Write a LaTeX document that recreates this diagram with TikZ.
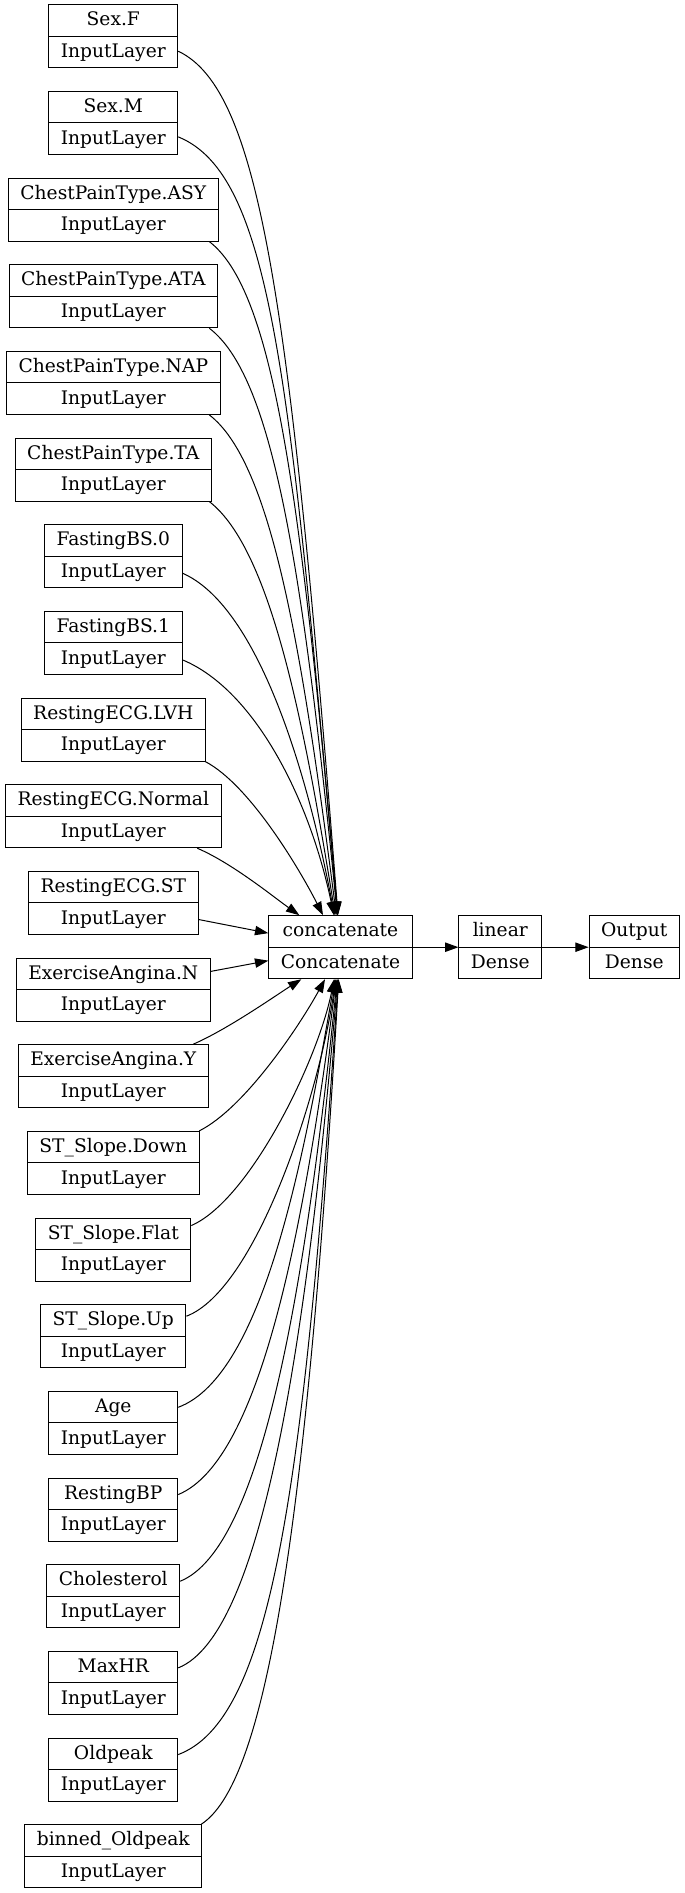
\documentclass[tikz,border=0pt]{standalone}
\usepackage{fontspec}
\setmainfont{DejaVu Serif}
\usetikzlibrary{shapes.multipart,arrows.meta,calc}
\newcommand{\sr}{\rule[-4.4pt]{0pt}{16.9pt}}
\tikzset{
  lay/.style={draw, rectangle split, rectangle split parts=2, inner xsep=9pt, inner ysep=3pt,
    line width=0.75pt, font=\fontsize{14pt}{16pt}\selectfont},
  conn/.style={-{Triangle[length=10pt,width=7pt]}, line width=0.75pt}
}
\begin{document}
\begin{tikzpicture}[x=0.75pt,y=-0.75pt]
\useasboundingbox (0,0) rectangle (685,1893);
\foreach \lab [count=\i from 0] in {Sex.F,Sex.M,ChestPainType.ASY,ChestPainType.ATA,ChestPainType.NAP,ChestPainType.TA,FastingBS.0,FastingBS.1,RestingECG.LVH,RestingECG.Normal,RestingECG.ST,ExerciseAngina.N,ExerciseAngina.Y,ST\_Slope.Down,ST\_Slope.Flat,ST\_Slope.Up,Age,RestingBP,Cholesterol,MaxHR,Oldpeak,binned\_Oldpeak}{
  \node[lay] (n\i) at (113.3,{36.2+86.667*\i}) {\sr\lab\nodepart{two}\sr InputLayer};
}
\node[lay] (concat) at (340.5,947.2) {\sr concatenate\nodepart{two}\sr Concatenate};
\node[lay] (linear) at (500.3,947.2) {\sr linear\nodepart{two}\sr Dense};
\node[lay] (output) at (634.3,947.2) {\sr Output\nodepart{two}\sr Dense};

\draw[conn] ($(n0.east)+(0,15)$) .. controls (260,90) and (290,300) .. (concat);
\draw[conn] ($(n1.east)+(0,14)$) .. controls (272,175) and (290,380) .. (concat);
\draw[conn] ($(n2.south)+(96,0)$) .. controls (272,290) and (300,480) .. (concat);
\draw[conn] ($(n3.south)+(96,0)$) .. controls (272,376) and (302,560) .. (concat);
\draw[conn] ($(n4.south)+(96,0)$) .. controls (272,463) and (302,650) .. (concat);
\draw[conn] ($(n5.south)+(96,0)$) .. controls (272,550) and (305,730) .. (concat);
\draw[conn] ($(n6.east)+(0,17)$) .. controls (255,605) and (305,760) .. (concat);
\draw[conn] ($(n7.east)+(0,17)$) .. controls (255,690) and (310,800) .. (concat);
\draw[conn] ($(n8.south)+(92,0)$) .. controls (250,785) and (300,870) .. ($(concat.north)+(-17.5,0)$);
\draw[conn] ($(n9.south)+(84,0)$) .. controls (232,863) and (275,898) .. ($(concat.north west)+(31,0)$);
\draw[conn] (n10) -- (concat);
\draw[conn] (n11) -- (concat);
\draw[conn] ($(n12.north)+(80,0)$) .. controls (228,1029) and (275,996) .. ($(concat.south west)+(33,0)$);
\draw[conn] ($(n13.north)+(86,0)$) .. controls (245,1108) and (300,1025) .. ($(concat.south)+(-15.5,0)$);
\draw[conn] ($(n14.east)+(0,-24)$) .. controls (250,1200) and (318,1060) .. (concat);
\draw[conn] ($(n15.east)+(0,-20)$) .. controls (255,1290) and (318,1100) .. (concat);
\draw[conn] ($(n16.east)+(0,-15.6)$) .. controls (265,1375) and (305,1150) .. (concat);
\draw[conn] ($(n17.east)+(0,-15)$) .. controls (262,1460) and (305,1220) .. (concat);
\draw[conn] ($(n18.east)+(0,-15)$) .. controls (262,1548) and (305,1290) .. (concat);
\draw[conn] ($(n19.east)+(0,-15)$) .. controls (260,1635) and (305,1360) .. (concat);
\draw[conn] ($(n20.east)+(0,-15)$) .. controls (270,1720) and (303,1500) .. (concat);
\draw[conn] ($(n21.north)+(88,0)$) .. controls (262,1785) and (305,1560) .. (concat);
\draw[conn] (concat) -- (linear);
\draw[conn] (linear) -- (output);
\end{tikzpicture}
\end{document}
